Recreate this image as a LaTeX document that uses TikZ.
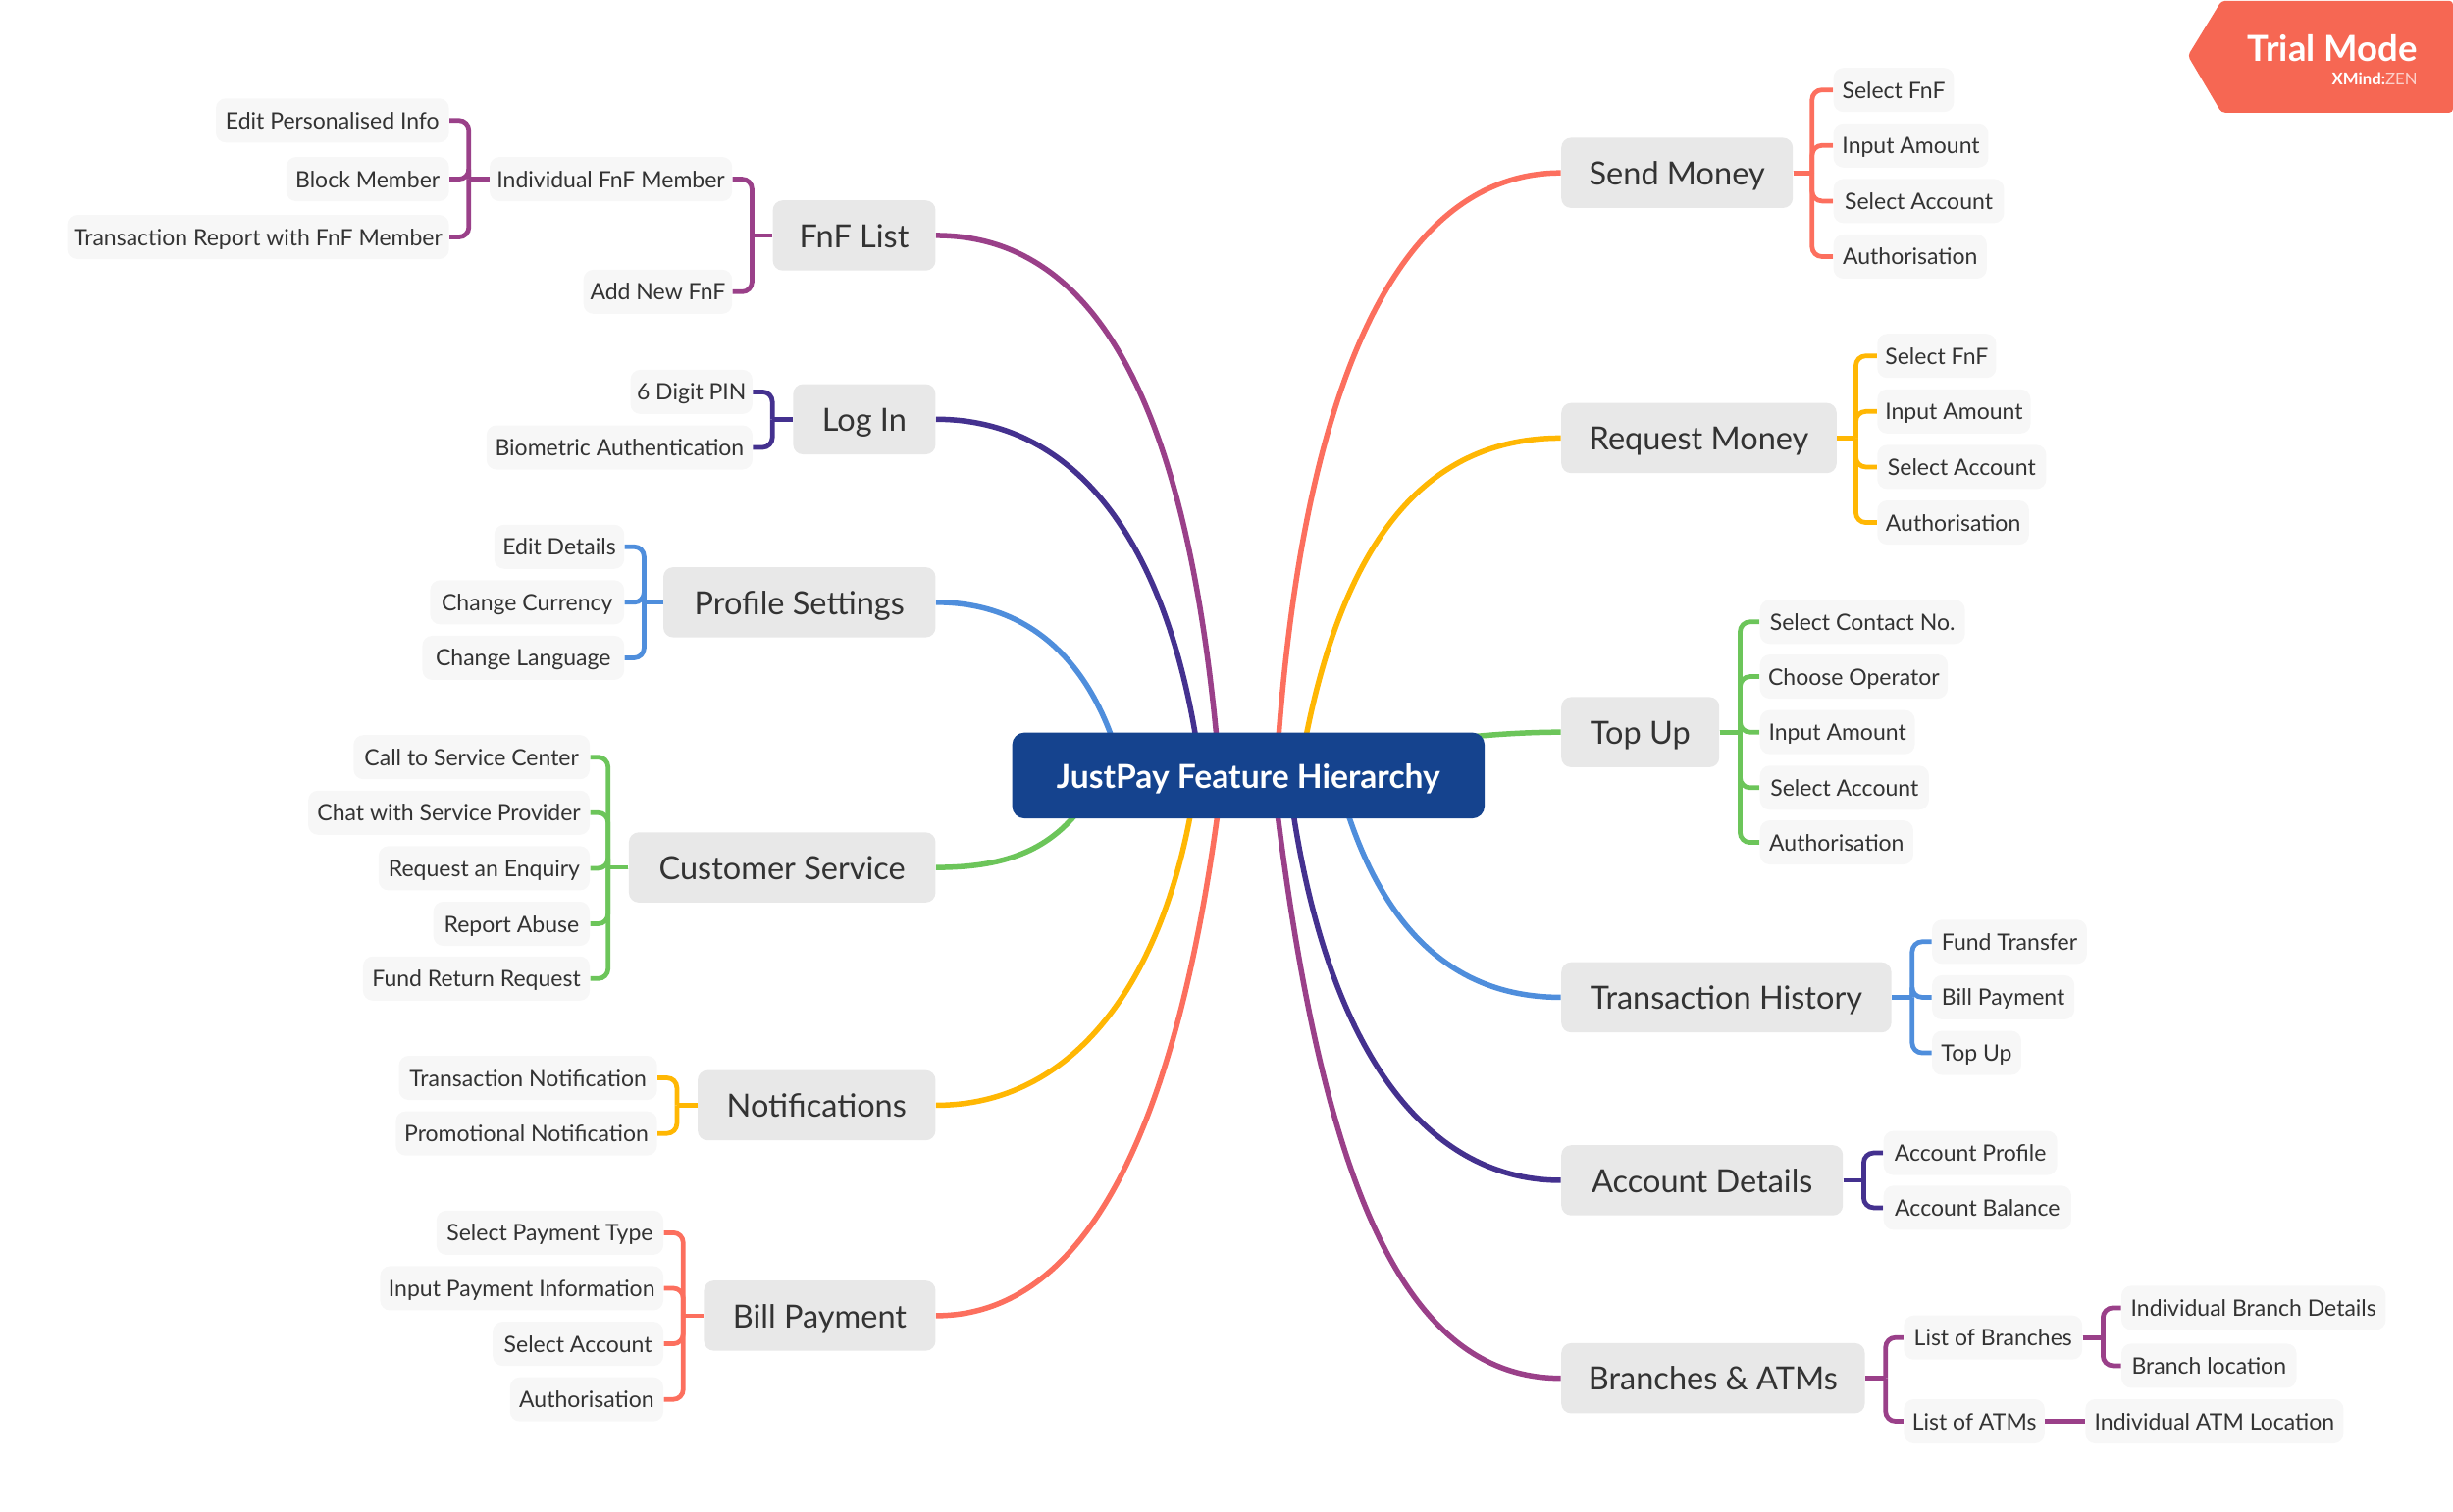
\documentclass[tikz,border=0pt]{standalone}
\usepackage{fontspec}
\setmainfont{Lato}
\usetikzlibrary{backgrounds}
\definecolor{cred}{HTML}{FC6F5E}
\definecolor{cyel}{HTML}{FFB703}
\definecolor{cgrn}{HTML}{6CC55A}
\definecolor{cblu}{HTML}{4F8EDC}
\definecolor{cind}{HTML}{44318F}
\definecolor{cpur}{HTML}{9A4089}
\definecolor{croot}{HTML}{15438E}
\definecolor{ctrial}{HTML}{F66753}
\definecolor{ctxt}{HTML}{333333}
\tikzset{
  leaf/.style={fill=black!3.2,rounded corners=4pt,minimum height=18pt,inner sep=0pt,text=ctxt,text height=7.9pt,text depth=1.1pt,font=\fontsize{9.2}{11}\selectfont},
  topic/.style={fill=black!9,rounded corners=4pt,minimum height=28.6pt,inner sep=0pt,text=ctxt,text height=10.6pt,text depth=0.8pt,font=\fontsize{13}{15}\selectfont},
  rootbox/.style={fill=croot,rounded corners=5pt,minimum height=35pt,inner sep=0pt,text=white,text height=10.8pt,text depth=0.4pt,font=\fontsize{13.45}{15}\selectfont\bfseries},
  curve/.style={line width=2.2pt},
  stub/.style={line width=1.9pt},
  brace/.style={line width=1.9pt,rounded corners=4pt},
}
\newcommand{\LF}[5]{\pgfmathsetmacro\myx{(#2+#3)/2}\pgfmathsetmacro\myw{(#3-#2)*0.63776}\node[leaf,minimum width=\myw pt] (#1) at (\myx,#4) {#5};}
\newcommand{\TP}[5]{\pgfmathsetmacro\myx{(#2+#3)/2}\pgfmathsetmacro\myw{(#3-#2)*0.63776}\node[topic,minimum width=\myw pt] (#1) at (\myx,#4) {#5};}
% parent east side to children west side
\newcommand{\BR}[4]{\draw[stub,#1] (#2.east) -- ++(#3,0);\draw[brace,#1] (#2.east) ++(#3,0) |- (#4.west);}
\newcommand{\BL}[4]{\draw[stub,#1] (#2.west) -- ++(-#3,0);\draw[brace,#1] (#2.west) ++(-#3,0) |- (#4.east);}
\begin{document}
\begin{tikzpicture}[x=0.63776pt,y=-0.63776pt]
\useasboundingbox (0,0) rectangle (1568,965.9);
% root
\node[rootbox,minimum width=192.6pt] (root) at (798,495.7) {JustPay Feature Hierarchy};
% topics right
\TP{send}{998}{1146}{110.5}{Send Money}
\TP{req}{998}{1174}{280}{Request Money}
\TP{top}{998}{1099}{468}{Top Up}
\TP{hist}{998}{1209}{637.5}{Transaction History}
\TP{acct}{998}{1178}{754.5}{Account Details}
\TP{bran}{998}{1192}{881}{Branches \& ATMs}
% topics left
\TP{fnf}{494}{598}{150.5}{FnF List}
\TP{log}{507}{598}{268}{Log In}
\TP{prof}{424}{598}{385}{Profile Settings}
\TP{cust}{402}{598}{554.5}{Customer Service}
\TP{noti}{446}{598}{706.5}{Notifications}
\TP{bill}{450}{598}{841}{Bill Payment}
% leaves right
\LF{s1}{1172}{1249}{57.5}{Select FnF}
\LF{s2}{1172}{1271}{93}{Input Amount}
\LF{s3}{1172}{1281}{128.5}{Select Account}
\LF{s4}{1172}{1270}{164}{Authorisation}
\LF{r1}{1200}{1276}{227.5}{Select FnF}
\LF{r2}{1200}{1298}{263}{Input Amount}
\LF{r3}{1200}{1308}{298.5}{Select Account}
\LF{r4}{1200}{1297}{334}{Authorisation}
\LF{t1}{1125}{1256}{397.5}{Select Contact No.}
\LF{t2}{1125}{1245}{432.5}{Choose Operator}
\LF{t3}{1125}{1224}{468}{Input Amount}
\LF{t4}{1125}{1233}{503.5}{Select Account}
\LF{t5}{1125}{1223}{538.5}{Authorisation}
\LF{h1}{1235}{1334}{602}{Fund Transfer}
\LF{h2}{1235}{1326}{637.5}{Bill Payment}
\LF{h3}{1235}{1292}{673}{Top Up}
\LF{a1}{1204}{1315}{737}{Account Profile}
\LF{a2}{1204}{1324}{772}{Account Balance}
\LF{b1}{1217}{1331}{855}{List of Branches}
\LF{b2}{1217}{1307}{908.5}{List of ATMs}
\LF{b3}{1356}{1525}{836}{Individual Branch Details}
\LF{b4}{1356}{1468}{873}{Branch location}
\LF{b5}{1333}{1498}{908.5}{Individual ATM Location}
% leaves left
\LF{f1}{313}{468}{114.5}{Individual FnF Member}
\LF{f2}{373}{468}{186.5}{Add New FnF}
\LF{f3}{138}{287}{77}{Edit Personalised Info}
\LF{f4}{183}{287}{114.5}{Block Member}
\LF{f5}{43}{287}{151.5}{Transaction Report with FnF Member}
\LF{l1}{403}{481}{250.5}{6 Digit PIN}
\LF{l2}{311}{481}{286}{Biometric Authentication}
\LF{p1}{316}{399}{349.5}{Edit Details}
\LF{p2}{275}{399}{385}{Change Currency}
\LF{p3}{270}{399}{420.5}{Change Language}
\LF{c1}{226}{377}{484}{Call to Service Center}
\LF{c2}{197}{377}{519.5}{Chat with Service Provider}
\LF{c3}{242}{377}{555}{Request an Enquiry}
\LF{c4}{277}{377}{590.5}{Report Abuse}
\LF{c5}{232}{377}{625.5}{Fund Return Request}
\LF{n1}{255}{420}{689}{Transaction Notification}
\LF{n2}{253}{420}{724.5}{Promotional Notification}
\LF{i1}{279}{424}{788}{Select Payment Type}
\LF{i2}{243}{424}{823.5}{Input Payment Information}
\LF{i3}{315}{424}{859}{Select Account}
\LF{i4}{326}{424}{894.5}{Authorisation}
% connectors
\begin{scope}[on background layer]
\coordinate (q1) at (817,475);
\coordinate (q2) at (834,475);
\coordinate (q3) at (940,471);
\coordinate (q4) at (860,515);
\coordinate (q5) at (826,515);
\coordinate (q6) at (816,515);
\coordinate (q7) at (778,475);
\coordinate (q8) at (765,475);
\coordinate (q9) at (712,475);
\coordinate (q10) at (692,515);
\coordinate (q11) at (762,515);
\coordinate (q12) at (779,515);
\draw[curve,cred] (send.west) .. controls (900,110.5) and (835,230) .. (q1);
\draw[curve,cyel] (req.west) .. controls (915,280) and (860,340) .. (q2);
\draw[curve,cgrn] (top.west) .. controls (980,468) and (960,469) .. (q3);
\draw[curve,cblu] (hist.west) .. controls (930,637.5) and (885,595) .. (q4);
\draw[curve,cind] (acct.west) .. controls (908,754.5) and (848,665) .. (q5);
\draw[curve,cpur] (bran.west) .. controls (895,881) and (845,750) .. (q6);
\draw[curve,cpur] (fnf.east) .. controls (710,150.5) and (760,280) .. (q7);
\draw[curve,cind] (log.east) .. controls (690,268) and (745,350) .. (q8);
\draw[curve,cblu] (prof.east) .. controls (660,385) and (695,425) .. (q9);
\draw[curve,cgrn] (cust.east) .. controls (640,554.5) and (670,545) .. (q10);
\draw[curve,cyel] (noti.east) .. controls (685,706.5) and (742,630) .. (q11);
\draw[curve,cred] (bill.east) .. controls (695,841) and (752,720) .. (q12);
\foreach \c in {s1,s2,s3,s4}{\BR{cred}{send}{12}{\c}}
\foreach \c in {r1,r2,r3,r4}{\BR{cyel}{req}{12}{\c}}
\foreach \c in {t1,t2,t3,t4,t5}{\BR{cgrn}{top}{13}{\c}}
\foreach \c in {h1,h2,h3}{\BR{cblu}{hist}{13}{\c}}
\foreach \c in {a1,a2}{\BR{cind}{acct}{13}{\c}}
\foreach \c in {b1,b2}{\BR{cpur}{bran}{13}{\c}}
\foreach \c in {b3,b4}{\BR{cpur}{b1}{13}{\c}}
\draw[stub,cpur] (b2.east) -- (b5.west);
\foreach \c in {f1,f2}{\BL{cpur}{fnf}{13}{\c}}
\foreach \c in {f3,f4,f5}{\BL{cpur}{f1}{13}{\c}}
\foreach \c in {l1,l2}{\BL{cind}{log}{13}{\c}}
\foreach \c in {p1,p2,p3}{\BL{cblu}{prof}{12}{\c}}
\foreach \c in {c1,c2,c3,c4,c5}{\BL{cgrn}{cust}{13}{\c}}
\foreach \c in {n1,n2}{\BL{cyel}{noti}{13}{\c}}
\foreach \c in {i1,i2,i3,i4}{\BL{cred}{bill}{13}{\c}}
\end{scope}
% badge
\fill[ctrial,rounded corners=1.5pt] (1420,0.5) -- (1568,0.5) -- (1568,72) -- (1420,72) -- (1398.5,35.6) -- cycle;
\node[anchor=east,text=white,inner sep=0pt,font=\fontsize{14.6}{17}\selectfont\bfseries] (trial) at (1545.5,30.5) {Trial Mode};
\node[anchor=east,text=white,inner sep=0pt,font=\fontsize{6.7}{8}\selectfont] (xmind) at (1545.5,50.5) {\textbf{XMind:}\textcolor{white!70!ctrial}{ZEN}};
\end{tikzpicture}
\end{document}
